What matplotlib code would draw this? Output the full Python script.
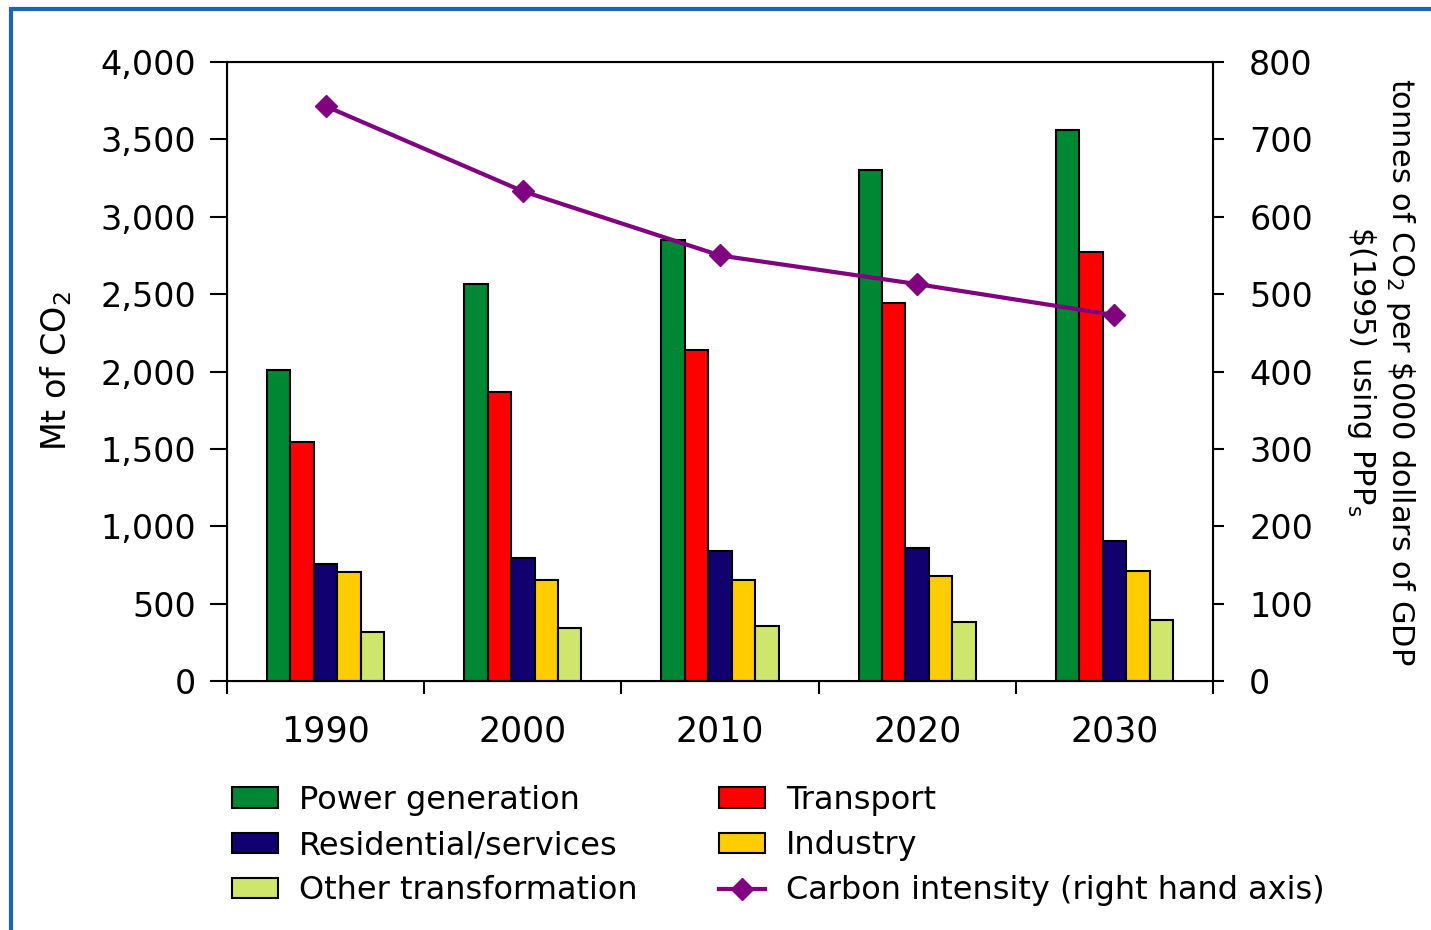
import numpy as np
import matplotlib
matplotlib.use("Agg")
import matplotlib.pyplot as plt
from matplotlib.ticker import FuncFormatter, FixedLocator
from matplotlib.patches import Rectangle

# data
years = ["1990", "2000", "2010", "2020", "2030"]
power = [2010, 2565, 2850, 3300, 3560]
transport = [1544, 1867, 2139, 2443, 2772]
residential = [756, 795, 840, 860, 905]
industry = [704, 653, 653, 679, 711]
other = [317, 342, 355, 381, 394]
intensity = [743, 633, 550, 513, 473]  # right hand axis

series = [power, transport, residential, industry, other]
names = ["Power generation", "Transport", "Residential/services",
         "Industry", "Other transformation"]
colors = ["#008734", "#ff0000", "#110070", "#ffcc00", "#cde66b"]

plt.rcParams["font.family"] = "DejaVu Sans"
plt.rcParams["mathtext.default"] = "regular"

fig = plt.figure(figsize=(14.31, 9.30), dpi=100)
ax = fig.add_axes([0.1586, 0.2677, 0.6891, 0.6656])

x = np.arange(len(years))
w = 0.119
bars = []
for i, (vals, c) in enumerate(zip(series, colors)):
    b = ax.bar(x + (i - 2) * w, vals, width=w, color=c, edgecolor="black",
               linewidth=1.5, zorder=2)
    bars.append(b)

ax.set_xlim(-0.5, 4.5)
ax.set_ylim(0, 4000)
ax.set_yticks(np.arange(0, 4001, 500))
ax.yaxis.set_major_formatter(FuncFormatter(lambda v, p: f"{int(v):,}"))
ax.set_xticks(x)
ax.set_xticklabels(years)
ax.xaxis.set_minor_locator(FixedLocator(np.arange(-0.5, 4.6, 1)))
ax.tick_params(axis="x", which="major", length=0, pad=24, labelsize=25)
ax.tick_params(axis="x", which="minor", length=9, width=1.5, direction="out")
ax.tick_params(axis="y", length=12, width=1.5, pad=10, labelsize=24)
for s in ax.spines.values():
    s.set_linewidth(1.5)
ax.set_ylabel("Mt of CO$_2$", fontsize=24)
ax.yaxis.set_label_coords(-0.155, 0.5)

ax2 = ax.twinx()
ax2.set_ylim(0, 800)
ax2.set_yticks(np.arange(0, 801, 100))
ax2.tick_params(axis="y", length=8, width=1.5, pad=18, labelsize=24)
line, = ax2.plot(x, intensity, color="#800080", lw=3, marker="D",
                 markersize=11, zorder=3)
ax2.set_ylabel("tonnes of CO$_2$ per \\$000 dollars of GDP\n\\$(1995) using PPP$_s$",
               fontsize=22, rotation=270, linespacing=1.25)
ax2.yaxis.set_label_coords(1.207, 0.5)

handles = [bars[0], bars[2], bars[4], bars[1], bars[3], line]
labels = [names[0], names[2], names[4], names[1], names[3],
          "Carbon intensity (right hand axis)"]
fig.legend(handles, labels, ncol=2, frameon=False, fontsize=23,
           loc="upper left", bbox_to_anchor=(0.153, 0.170),
           handlelength=1.45, handleheight=0.6, handletextpad=0.65,
           columnspacing=2.55, labelspacing=0.45, borderaxespad=0)

# blue frame around the figure
fig.patches.append(Rectangle((11 / 1431, -0.1), 1.2, 1.1 - 9.5 / 930,
                             transform=fig.transFigure, fill=False,
                             edgecolor="#1f64b4", linewidth=3))

fig.savefig("out.png", dpi=100)
